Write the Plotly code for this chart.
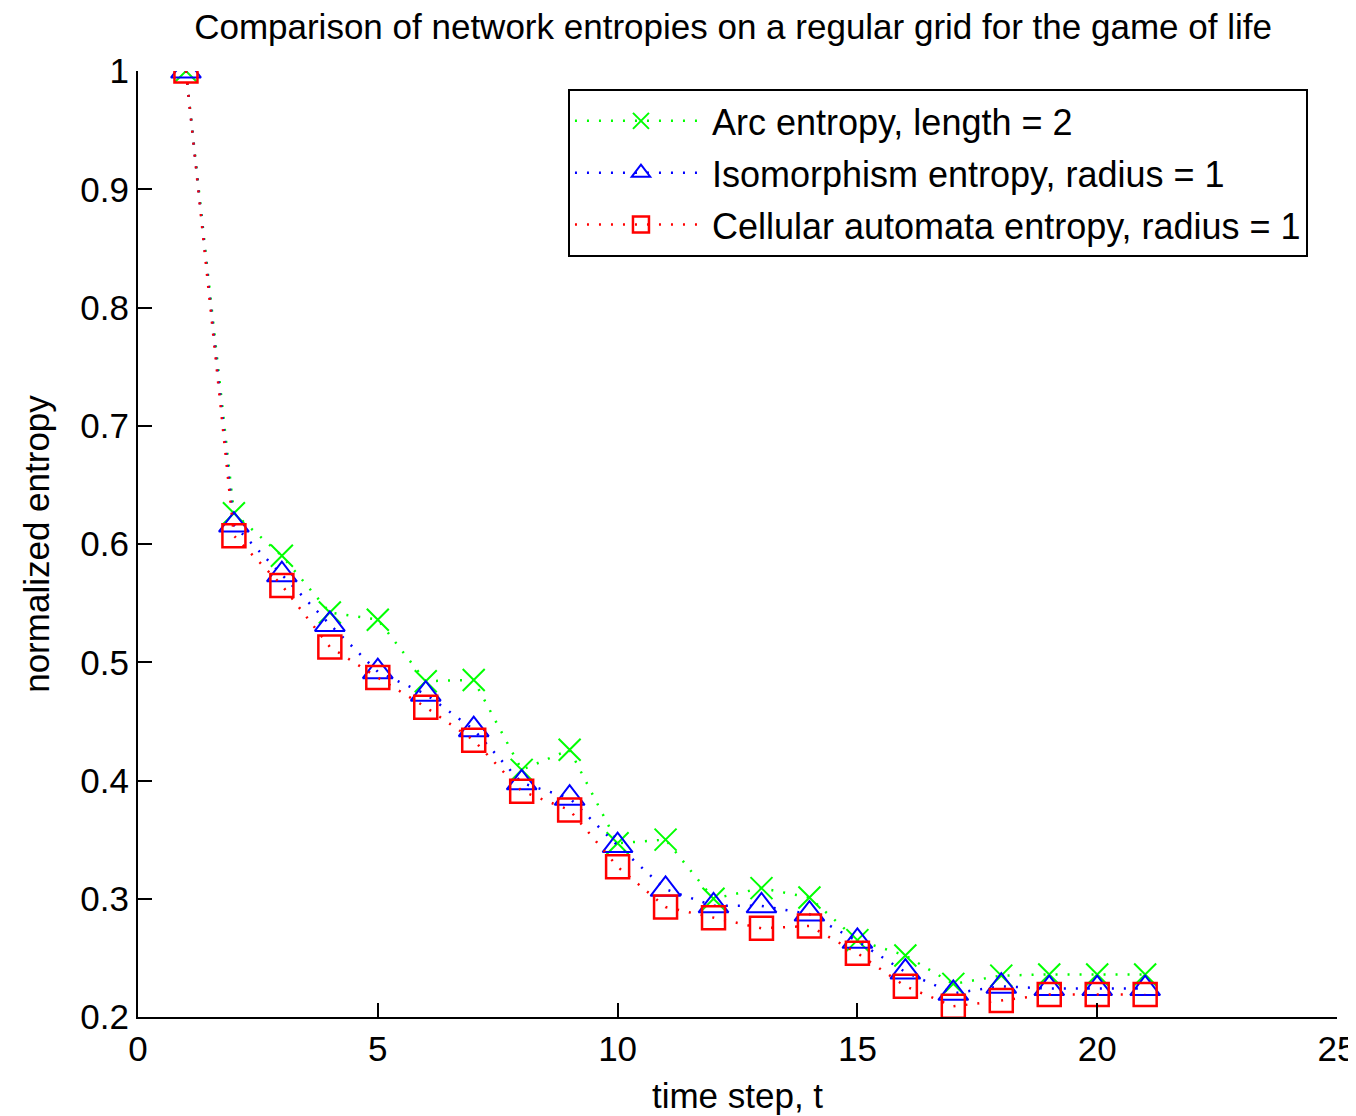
import plotly.graph_objects as go

t = list(range(1, 22))
arc_entropy = [1.0, 0.626, 0.590, 0.542, 0.536, 0.484, 0.485, 0.409, 0.426, 0.347, 0.350,
               0.300, 0.309, 0.301, 0.265, 0.252, 0.228, 0.235, 0.236, 0.236, 0.236]
iso_entropy = [1.0, 0.616, 0.574, 0.532, 0.492, 0.473, 0.443, 0.398, 0.385, 0.345, 0.308,
               0.294, 0.294, 0.287, 0.264, 0.238, 0.220, 0.226, 0.224, 0.224, 0.224]
ca_entropy = [1.0, 0.607, 0.565, 0.513, 0.487, 0.462, 0.434, 0.391, 0.375, 0.327, 0.293,
              0.284, 0.275, 0.277, 0.254, 0.226, 0.209, 0.214, 0.219, 0.219, 0.219]

names = ["Arc entropy, length = 2",
         "Isomorphism entropy, radius = 1",
         "Cellular automata entropy, radius = 1"]

FONT = "Liberation Sans"
FS = 35
fig = go.Figure()
fig.add_trace(go.Scatter(
    x=t, y=arc_entropy, name=names[0], mode="lines+markers", legendgroup="a",
    line=dict(color="#00ff00", width=2.5, dash="2px,10px"),
    marker=dict(symbol="x-thin-open", size=22, color="#00ff00",
                line=dict(color="#00ff00", width=2))))
fig.add_trace(go.Scatter(
    x=t, y=iso_entropy, name=names[1], mode="lines+markers", legendgroup="b",
    line=dict(color="#0000ff", width=2.5, dash="2px,10px"),
    marker=dict(symbol="triangle-up-open", size=26, color="#0000ff",
                line=dict(color="#0000ff", width=2))))
fig.add_trace(go.Scatter(
    x=t, y=ca_entropy, name=names[2], mode="lines+markers", legendgroup="c",
    line=dict(color="#ff0000", width=2.5, dash="2px,10px"),
    marker=dict(symbol="square-open", size=23, color="#ff0000",
                line=dict(color="#ff0000", width=2.5))))

axis_common = dict(
    showline=True, linecolor="#000000", linewidth=2, mirror=False,
    ticks="inside", ticklen=14, tickwidth=2, tickcolor="#000000",
    showgrid=False, zeroline=False, automargin=False,
    ticklabeloverflow="allow",
    tickfont=dict(family=FONT, size=FS, color="#000000"),
)
fig.update_xaxes(range=[0, 25], dtick=5, tick0=0,
                 title=dict(text="time step, t", font=dict(family=FONT, size=FS, color="#000000"), standoff=16),
                 **axis_common)
fig.update_yaxes(range=[0.2, 1.0], dtick=0.1, tick0=0.2,
                 title=dict(text="normalized entropy", font=dict(family=FONT, size=FS, color="#000000"), standoff=20),
                 **axis_common)

fig.update_layout(
    width=1356, height=1108,
    margin=dict(l=130, r=27, t=63, b=99, autoexpand=False),
    paper_bgcolor="white", plot_bgcolor="white",
    title=dict(text="Comparison of network entropies on a regular grid for the game of life",
               x=0.5347, xanchor="center", y=0.983, yanchor="middle",
               font=dict(family=FONT, size=FS, color="#000000")),
    legend=dict(x=0.3586, y=0.981, xanchor="left", yanchor="top",
                bgcolor="white", bordercolor="#000000", borderwidth=2,
                font=dict(family=FONT, size=36, color="#000000"),
                itemwidth=132, traceorder="grouped", tracegroupgap=2),
    showlegend=True,
)

fig.write_html("out.html")
